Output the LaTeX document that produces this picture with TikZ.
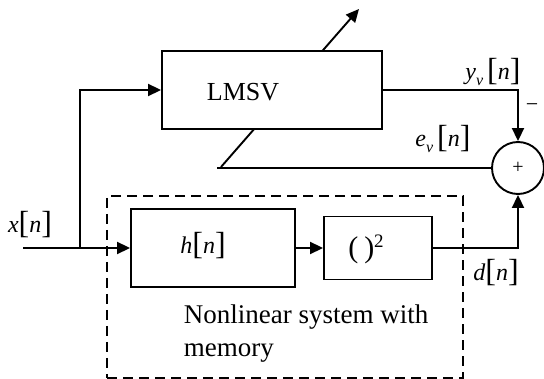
\documentclass[tikz,border=0pt]{standalone}
\usepackage{fontspec}
\setmainfont{Liberation Serif}
\usetikzlibrary{arrows.meta}
% tall brackets around the time index, as in x[n]
\newcommand\brk[1]{{\fontsize{32}{32}\selectfont\raisebox{-1pt}{#1}}}
\newcommand\sig[2]{\textit{#1}\brk{[}\textit{#2}\brk{]}}
\newcommand\sigv[3]{\textit{#1}\raisebox{-6pt}{\fontsize{16}{16}\selectfont\textit{#2}}\,\brk{[}\textit{#3}\brk{]}}
\begin{document}
\begin{tikzpicture}[x=1pt,y=-1pt,line width=1.9pt,
  >={Triangle[length=13pt,width=12pt]},
  font=\fontsize{24}{28}\selectfont]
\tikzset{
  block/.style={draw,fill=white,inner sep=0pt},
  sysbox/.style={draw,dashed,dash pattern=on 10pt off 6pt,line width=1.7pt,inner sep=0pt},
  sumnode/.style={draw,circle,fill=white,inner sep=0pt,minimum size=52pt}
}
\useasboundingbox (0,0) rectangle (544,379);

% adaptation arrow crossing the LMSV block
\coordinate (adapt start) at (221,167);
\coordinate (adapt end) at (359,9);
\draw[->] (adapt start) -- (adapt end);

% blocks
\node[block,minimum width=220pt,minimum height=78pt] (lmsv) at (272,90) {};
\node (lmsvtext) at (243,92) {\fontsize{26}{28}\selectfont LMSV};
\node[sysbox,minimum width=356pt,minimum height=182pt] (sys) at (285,287) {};
\node[block,minimum width=164pt,minimum height=78pt] (hbox) at (213,248) {};
\node (htext) at (203,246) {\sig{h}{n}};
\node[block,minimum width=108pt,minimum height=63pt] (sq) at (378,248) {};
\node (sqtext) at (366,249) {{\fontsize{30}{30}\selectfont(\hspace{6pt})}\raisebox{10pt}{\fontsize{19}{19}\selectfont 2}};
\node[sumnode] (sum) at (518,168) {};
\node (plus) at (sum) {\fontsize{20}{20}\selectfont +};

% caption of the dashed system
\node[anchor=north west,inner sep=0pt,align=left,font=\fontsize{27}{33}\selectfont]
  (caption) at (183,304) {Nonlinear system with\\memory};

% signal paths
\coordinate (in) at (23,248);
\coordinate (branch) at (80,248);
\coordinate (err end) at (217,168);
\draw[->] (in) -- (hbox.west);
\draw[->] (branch) |- (lmsv.west);
\draw[->] (hbox.east) -- (sq.west);
\draw[->] (sq.east) -| (sum.south);
\draw[->] (lmsv.east) -| (sum.north);
\draw (sum.west) -- (err end);

% signal labels
\node (xl) at (30,225) {\sig{x}{n}};
\node (yl) at (493,72) {\sigv{y}{v}{n}};
\node (el) at (443,139) {\sigv{e}{v}{n}};
\node (dl) at (496,273) {\sig{d}{n}};
\node (minus) at (532,108) {\fontsize{22}{22}\selectfont −};
\end{tikzpicture}
\end{document}
